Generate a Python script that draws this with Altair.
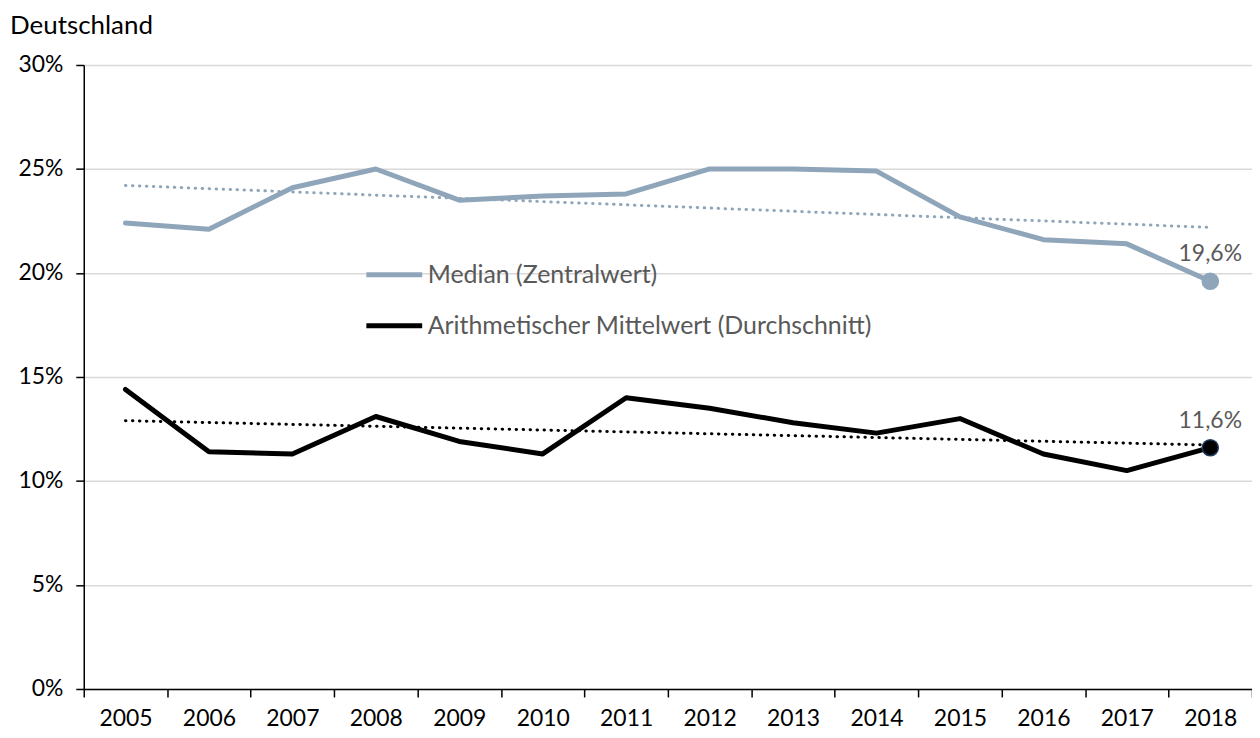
import altair as alt
import pandas as pd

years = [2005, 2006, 2007, 2008, 2009, 2010, 2011, 2012, 2013, 2014, 2015, 2016, 2017, 2018]
median_vals = [22.4, 22.1, 24.1, 25.0, 23.5, 23.7, 23.8, 25.0, 25.0, 24.9, 22.7, 21.6, 21.4, 19.6]
mean_vals = [14.4, 11.4, 11.3, 13.1, 11.9, 11.3, 14.0, 13.5, 12.8, 12.3, 13.0, 11.3, 10.5, 11.6]
series_names = ["Median (Zentralwert)", "Arithmetischer Mittelwert (Durchschnitt)"]
series_colors = ["#8FA5B9", "#000000"]
point_strokes = ["#8FA5B9", "#1F3A5F"]
y_ticks = [0, 5, 10, 15, 20, 25, 30]
title_text = "Deutschland"

FONT = "Lato"
LABEL_GRAY = "#595959"
TICK_FS = 23

rows = []
for name, vals in zip(series_names, [median_vals, mean_vals]):
    for y, v in zip(years, vals):
        rows.append({"year": y, "value": v, "series": name})
df = pd.DataFrame(rows)
last_df = df[df["year"] == years[-1]]

color_scale = alt.Scale(domain=series_names, range=series_colors)
band_x = alt.Scale(type="band", domain=years, paddingInner=0, paddingOuter=0)
y_scale = alt.Scale(domain=[0, 30])
y_enc = alt.Y("value:Q", scale=y_scale, title=None)

lines = alt.Chart(df).mark_line(strokeWidth=5, strokeCap="round", strokeJoin="round").encode(
    x=alt.X("year:O", scale=band_x, title=None,
            axis=alt.Axis(labelAngle=0, tickBand="extent", tickSize=8, tickColor="#000",
                          domainColor="#000", domainWidth=1.5, tickWidth=1.5,
                          labelFont=FONT, labelFontSize=TICK_FS, labelColor="#000",
                          labelPadding=11, grid=False)),
    y=alt.Y("value:Q", scale=y_scale, title=None,
            axis=alt.Axis(values=y_ticks, labelExpr="datum.value + '%'", tickSize=8,
                          tickColor="#000", domainColor="#000", domainWidth=1.5, tickWidth=1.5,
                          labelFont=FONT, labelFontSize=TICK_FS, labelColor="#000",
                          labelPadding=13, grid=True, gridColor="#D9D9D9", gridWidth=1.5)),
    color=alt.Color("series:N", scale=color_scale, sort=series_names,
                    legend=alt.Legend(title=None, orient="none", legendX=281, legendY=180,
                                      symbolType="stroke", symbolSize=3136, symbolStrokeWidth=5,
                                      labelFont=FONT, labelFontSize=25, labelColor=LABEL_GRAY,
                                      labelOffset=3, rowPadding=7, labelLimit=700)),
)

trend = alt.Chart(df).transform_regression(
    "year", "value", groupby=["series"], method="linear"
).mark_line(strokeWidth=3, strokeDash=[0.5, 6.5], strokeCap="round").encode(
    x=alt.X("year:Q", scale=alt.Scale(domain=[2004.5, 2018.5], nice=False, zero=False), axis=None),
    y=y_enc,
    color=alt.Color("series:N", scale=color_scale, legend=None),
)

points = alt.Chart(last_df).mark_point(filled=True, size=260, opacity=1, strokeWidth=1.5).encode(
    x=alt.X("year:O", scale=band_x, axis=None),
    y=y_enc,
    fill=alt.Color("series:N", scale=color_scale, legend=None),
    stroke=alt.Stroke("series:N", scale=alt.Scale(domain=series_names, range=point_strokes), legend=None),
)

labels = alt.Chart(last_df).transform_calculate(
    label="replace(format(datum.value, '.1f'), '.', ',') + '%'"
).mark_text(font=FONT, fontSize=TICK_FS, color=LABEL_GRAY, dy=-27, baseline="middle").encode(
    x=alt.X("year:O", scale=band_x, axis=None),
    y=y_enc,
    text="label:N",
)

chart = alt.layer(lines, trend, points, labels).resolve_scale(
    x="independent", color="independent", fill="independent", stroke="independent"
).properties(
    width=1172, height=626,
    autosize=alt.AutoSizeParams(type="none"),
    padding={"left": 76, "top": 56, "right": 0, "bottom": 44},
    title=alt.TitleParams(title_text, anchor="start", frame="group", dx=-74, offset=15,
                          font=FONT, fontSize=26, fontWeight="normal", color="#000"),
).configure_view(stroke=None)

chart.save("out.html", embed_options={"renderer": "svg", "actions": False})
